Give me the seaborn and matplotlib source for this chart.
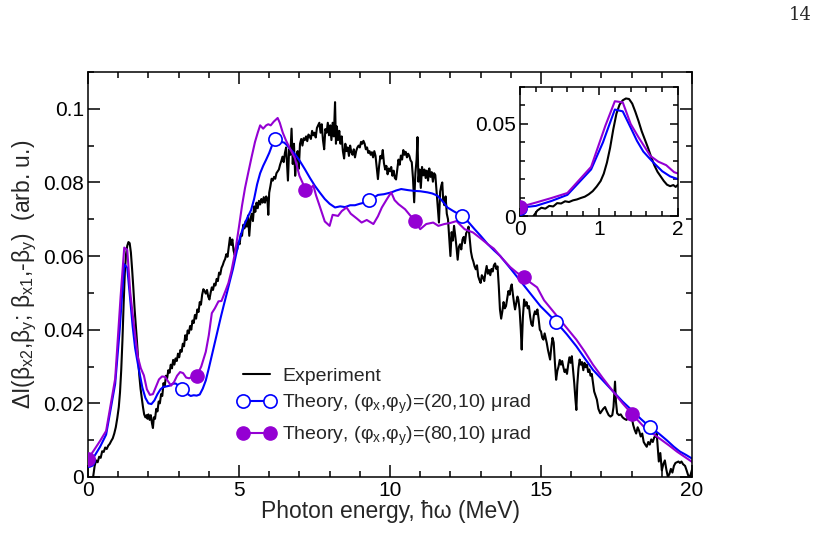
import matplotlib
matplotlib.use('Agg')
import matplotlib.pyplot as plt
from matplotlib.lines import Line2D
from matplotlib.ticker import MultipleLocator
import seaborn as sns

######################################################
# Experimental spectrum (read off the figure)
exp_energy = [0.17, 0.22, 0.27, 0.32, 0.37, 0.42, 0.47, 0.52, 0.57, 0.62, 0.67, 0.72, 0.77, 0.82, 0.87,
              0.92, 0.97, 1.02, 1.06, 1.10, 1.14, 1.18, 1.22, 1.26, 1.30, 1.34, 1.38, 1.42, 1.46, 1.50,
              1.54, 1.58, 1.62, 1.66, 1.70, 1.74, 1.78, 1.82, 1.86, 1.90, 1.94, 1.97, 2.00, 2.04, 2.08,
              2.12, 2.15, 2.18, 2.22, 2.26, 2.30, 2.34, 2.38, 2.42, 2.46, 2.50, 2.54, 2.58, 2.62, 2.66,
              2.70, 2.74, 2.78, 2.82, 2.86, 2.90, 2.94, 2.98, 3.02, 3.06, 3.10, 3.14, 3.18, 3.22, 3.26,
              3.30, 3.34, 3.38, 3.42, 3.46, 3.50, 3.54, 3.58, 3.62, 3.66, 3.70, 3.74, 3.78, 3.82, 3.86,
              3.90, 3.94, 3.98, 4.02, 4.06, 4.10, 4.14, 4.18, 4.22, 4.26, 4.30, 4.34, 4.38, 4.42, 4.46,
              4.50, 4.54, 4.58, 4.62, 4.66, 4.70, 4.74, 4.78, 4.82, 4.86, 4.90, 4.94, 4.98, 5.02, 5.06,
              5.10, 5.14, 5.18, 5.22, 5.26, 5.30, 5.34, 5.38, 5.42, 5.46, 5.50, 5.54, 5.58, 5.62, 5.66,
              5.70, 5.74, 5.78, 5.82, 5.86, 5.90, 5.94, 5.97, 6.00, 6.04, 6.08, 6.12, 6.16, 6.20, 6.24,
              6.28, 6.32, 6.36, 6.40, 6.44, 6.48, 6.52, 6.56, 6.60, 6.62, 6.66, 6.70, 6.74, 6.78, 6.82,
              6.86, 6.90, 6.94, 6.98, 7.02, 7.06, 7.10, 7.14, 7.18, 7.22, 7.26, 7.30, 7.34, 7.38, 7.42,
              7.46, 7.50, 7.54, 7.58, 7.62, 7.66, 7.70, 7.74, 7.78, 7.82, 7.86, 7.90, 7.94, 7.98, 8.02,
              8.06, 8.10, 8.14, 8.18, 8.21, 8.24, 8.28, 8.32, 8.36, 8.40, 8.44, 8.48, 8.52, 8.56, 8.60,
              8.64, 8.68, 8.72, 8.76, 8.80, 8.84, 8.88, 8.92, 8.96, 9.00, 9.04, 9.08, 9.12, 9.16, 9.20,
              9.24, 9.28, 9.32, 9.36, 9.40, 9.44, 9.48, 9.52, 9.56, 9.60, 9.64, 9.68, 9.72, 9.76, 9.80,
              9.84, 9.88, 9.92, 9.96, 10.00, 10.04, 10.08, 10.12, 10.16, 10.20, 10.24, 10.28, 10.32,
              10.36, 10.40, 10.44, 10.48, 10.52, 10.56, 10.60, 10.64, 10.68, 10.72, 10.76, 10.80, 10.84,
              10.88, 10.91, 10.94, 10.98, 11.02, 11.06, 11.10, 11.14, 11.18, 11.22, 11.26, 11.30, 11.34,
              11.38, 11.42, 11.46, 11.50, 11.54, 11.58, 11.62, 11.66, 11.70, 11.73, 11.76, 11.80, 11.84,
              11.88, 11.92, 11.96, 12.00, 12.04, 12.08, 12.12, 12.16, 12.20, 12.24, 12.28, 12.32, 12.36,
              12.40, 12.44, 12.48, 12.52, 12.56, 12.60, 12.64, 12.68, 12.72, 12.76, 12.80, 12.84, 12.88,
              12.92, 12.96, 13.00, 13.04, 13.08, 13.12, 13.16, 13.20, 13.24, 13.28, 13.32, 13.36, 13.40,
              13.44, 13.48, 13.52, 13.56, 13.60, 13.64, 13.68, 13.72, 13.76, 13.80, 13.84, 13.88, 13.92,
              13.96, 14.00, 14.03, 14.07, 14.11, 14.14, 14.18, 14.22, 14.25, 14.29, 14.33, 14.36, 14.40,
              14.44, 14.48, 14.52, 14.56, 14.60, 14.64, 14.68, 14.72, 14.76, 14.80, 14.84, 14.88, 14.92,
              14.96, 15.00, 15.04, 15.08, 15.12, 15.16, 15.19, 15.23, 15.27, 15.30, 15.34, 15.38, 15.42,
              15.46, 15.50, 15.54, 15.58, 15.62, 15.66, 15.70, 15.74, 15.78, 15.82, 15.86, 15.90, 15.94,
              15.98, 16.02, 16.06, 16.10, 16.14, 16.17, 16.20, 16.24, 16.28, 16.32, 16.36, 16.40, 16.44,
              16.48, 16.52, 16.56, 16.60, 16.64, 16.68, 16.72, 16.76, 16.80, 16.85, 16.90, 16.96, 17.00,
              17.06, 17.12, 17.18, 17.24, 17.30, 17.36, 17.40, 17.45, 17.48, 17.52, 17.58, 17.64, 17.70,
              17.76, 17.83, 17.90, 17.95, 18.00, 18.05, 18.10, 18.15, 18.20, 18.25, 18.30, 18.35, 18.40,
              18.45, 18.50, 18.55, 18.60, 18.65, 18.70, 18.75, 18.80, 18.83, 18.87, 18.90, 18.95, 19.00,
              19.05, 19.10, 19.15, 19.20, 19.25, 19.30, 19.35, 19.40, 19.45, 19.50, 19.55, 19.60, 19.65,
              19.70, 19.77, 19.82, 19.87, 19.93, 20.00]
exp_signal = [0.0, 0.003, 0.0045, 0.004, 0.0055, 0.0052, 0.007, 0.0068, 0.008, 0.0076, 0.0085, 0.009,
              0.0098, 0.0105, 0.0118, 0.0135, 0.016, 0.019, 0.023, 0.029, 0.037, 0.047, 0.0555, 0.0605,
              0.0628, 0.0638, 0.0635, 0.061, 0.0565, 0.0515, 0.046, 0.0415, 0.037, 0.032, 0.0275, 0.024,
              0.0215, 0.019, 0.017, 0.0162, 0.0168, 0.0158, 0.017, 0.0155, 0.0168, 0.0145, 0.0133, 0.0162,
              0.0158, 0.0185, 0.0178, 0.0205, 0.020, 0.0225, 0.022, 0.0255, 0.0245, 0.0275, 0.0268, 0.029,
              0.0283, 0.0305, 0.0295, 0.0318, 0.0305, 0.0322, 0.0315, 0.0335, 0.0325, 0.0345, 0.034,
              0.0362, 0.0355, 0.0385, 0.0372, 0.0398, 0.039, 0.041, 0.040, 0.0425, 0.0418, 0.044, 0.043,
              0.0455, 0.0448, 0.0475, 0.0468, 0.0495, 0.051, 0.0505, 0.0498, 0.0508, 0.049, 0.0482, 0.050,
              0.0515, 0.0508, 0.0525, 0.052, 0.0538, 0.0532, 0.0555, 0.055, 0.0568, 0.0575, 0.0585,
              0.0592, 0.0605, 0.0598, 0.0625, 0.065, 0.063, 0.0645, 0.0615, 0.0602, 0.0625, 0.0618,
              0.0638, 0.0632, 0.066, 0.0655, 0.0685, 0.0675, 0.0695, 0.068, 0.071, 0.0655, 0.070, 0.0715,
              0.0695, 0.0735, 0.072, 0.0745, 0.073, 0.075, 0.074, 0.0755, 0.0745, 0.076, 0.0745, 0.0762,
              0.0755, 0.0712, 0.0772, 0.079, 0.081, 0.0805, 0.0815, 0.081, 0.0825, 0.083, 0.0835, 0.0848,
              0.0858, 0.087, 0.0855, 0.088, 0.0895, 0.0835, 0.0805, 0.089, 0.0875, 0.0946, 0.085, 0.0905,
              0.0818, 0.0868, 0.0885, 0.0837, 0.0905, 0.0918, 0.090, 0.092, 0.0915, 0.0925, 0.0912, 0.093,
              0.0925, 0.0918, 0.094, 0.0928, 0.0935, 0.0922, 0.0948, 0.0955, 0.0962, 0.0935, 0.0958,
              0.0915, 0.089, 0.0945, 0.0935, 0.0962, 0.0928, 0.0955, 0.0915, 0.0962, 0.0925, 0.1018,
              0.0905, 0.0952, 0.0915, 0.094, 0.0905, 0.0925, 0.0885, 0.0865, 0.0905, 0.0885, 0.0895,
              0.0872, 0.090, 0.0882, 0.0875, 0.089, 0.0868, 0.0885, 0.0895, 0.090, 0.0895, 0.091, 0.0905,
              0.0913, 0.0905, 0.089, 0.0895, 0.088, 0.0885, 0.0875, 0.0882, 0.0868, 0.0885, 0.0872, 0.084,
              0.0809, 0.0845, 0.0872, 0.0865, 0.0888, 0.0852, 0.0835, 0.0845, 0.0822, 0.0838, 0.083,
              0.0842, 0.0818, 0.0832, 0.0812, 0.0808, 0.0835, 0.0862, 0.0848, 0.0873, 0.0862, 0.0888,
              0.0875, 0.0883, 0.0868, 0.0878, 0.0872, 0.086, 0.0855, 0.0812, 0.0746, 0.0825, 0.0862,
              0.0923, 0.0802, 0.0835, 0.0785, 0.0842, 0.0819, 0.0835, 0.0812, 0.0832, 0.0805, 0.0838,
              0.0815, 0.0828, 0.0802, 0.0825, 0.082, 0.0778, 0.0735, 0.0691, 0.0775, 0.0792, 0.080,
              0.0752, 0.0738, 0.0762, 0.0715, 0.070, 0.0652, 0.060, 0.0665, 0.0642, 0.0682, 0.0655,
              0.0625, 0.059, 0.0625, 0.0632, 0.0618, 0.0645, 0.0652, 0.0635, 0.0662, 0.0668, 0.068,
              0.0645, 0.0612, 0.0595, 0.0585, 0.0572, 0.0564, 0.0575, 0.0545, 0.0535, 0.0527, 0.0548,
              0.0542, 0.0532, 0.0555, 0.0573, 0.0552, 0.0562, 0.0548, 0.0565, 0.0558, 0.0575, 0.058,
              0.0565, 0.0572, 0.052, 0.0455, 0.043, 0.045, 0.0475, 0.0458, 0.0464, 0.0485, 0.0505, 0.0495,
              0.0515, 0.0523, 0.0495, 0.047, 0.0455, 0.0472, 0.049, 0.0482, 0.0455, 0.040, 0.0346, 0.0435,
              0.0482, 0.0465, 0.0475, 0.0458, 0.0464, 0.0435, 0.0415, 0.041, 0.0438, 0.045, 0.0442,
              0.0455, 0.043, 0.040, 0.0395, 0.0378, 0.0373, 0.039, 0.0375, 0.0364, 0.0345, 0.033, 0.0319,
              0.0352, 0.0378, 0.0365, 0.031, 0.0264, 0.0288, 0.030, 0.0318, 0.0305, 0.0315, 0.0298,
              0.0285, 0.0292, 0.028, 0.0305, 0.0325, 0.031, 0.0328, 0.029, 0.0255, 0.021, 0.0182, 0.025,
              0.0295, 0.0319, 0.0305, 0.0312, 0.029, 0.031, 0.0298, 0.0305, 0.0285, 0.0292, 0.0275, 0.028,
              0.0255, 0.0232, 0.0222, 0.021, 0.0185, 0.0173, 0.0178, 0.0185, 0.019, 0.0178, 0.0168,
              0.0164, 0.0168, 0.019, 0.0259, 0.0205, 0.0173, 0.0168, 0.017, 0.0162, 0.0158, 0.0155,
              0.0162, 0.0158, 0.0164, 0.0142, 0.0128, 0.0118, 0.0135, 0.0125, 0.011, 0.0118, 0.0095,
              0.0088, 0.0082, 0.0095, 0.0088, 0.0102, 0.0095, 0.0108, 0.011, 0.0118, 0.0075, 0.0042,
              0.0065, 0.0018, 0.0035, 0.0045, 0.002, 0.0, 0.0008, 0.0022, 0.0012, 0.003, 0.0038, 0.004,
              0.0042, 0.0038, 0.0042, 0.0035, 0.003, 0.0018, 0.0005, 0.0, 0.002]

# Theory, (phi_x, phi_y) = (20, 10) urad
th20_energy = [0.0, 0.2, 0.4, 0.6, 0.9, 1.05, 1.1, 1.2, 1.3, 1.4, 1.48, 1.56, 1.63, 1.7, 1.8, 1.9, 2.0,
               2.1, 2.2, 2.3, 2.4, 2.5, 2.6, 2.7, 2.8, 2.9, 3.0, 3.1, 3.2, 3.3, 3.4, 3.5, 3.6, 3.7, 3.8,
               3.9, 4.0, 4.1, 4.2, 4.3, 4.4, 4.5, 4.6, 4.7, 4.8, 4.9, 5.0, 5.1, 5.2, 5.3, 5.4, 5.5, 5.6,
               5.7, 5.8, 5.9, 6.0, 6.1, 6.2, 6.3, 6.4, 6.5, 6.6, 6.7, 6.85, 7.0, 7.18, 7.35, 7.51, 7.68,
               7.84, 8.0, 8.18, 8.35, 8.51, 8.68, 8.84, 9.0, 9.15, 9.3, 9.45, 9.6, 9.8, 10.05, 10.2,
               10.37, 10.6, 10.8, 11.0, 11.24, 11.4, 11.57, 11.75, 11.9, 12.1, 12.25, 12.4, 12.6, 12.8,
               13.0, 13.24, 13.45, 13.65, 14.0, 14.32, 14.65, 14.98, 15.25, 15.5, 15.85, 16.17, 16.45,
               16.72, 17.05, 17.39, 17.7, 18.05, 18.3, 18.6, 18.9, 19.16, 19.4, 19.6, 19.8, 20.0]
th20_signal = [0.0045, 0.0055, 0.0082, 0.0115, 0.0253, 0.040, 0.046, 0.0578, 0.0568, 0.048, 0.0408,
               0.035, 0.0317, 0.0285, 0.0243, 0.0215, 0.0200, 0.0198, 0.0208, 0.0225, 0.0238, 0.0245,
               0.0246, 0.0248, 0.0253, 0.0254, 0.0248, 0.0239, 0.0232, 0.0225, 0.022, 0.0222, 0.0221,
               0.0224, 0.0240, 0.0262, 0.0295, 0.0330, 0.0365, 0.0400, 0.0435, 0.0468, 0.0500, 0.0533,
               0.0565, 0.0603, 0.0640, 0.0668, 0.0690, 0.0708, 0.0725, 0.0755, 0.0795, 0.0825, 0.0845,
               0.0862, 0.0880, 0.0902, 0.0918, 0.0912, 0.0910, 0.0908, 0.0900, 0.0890, 0.0877, 0.0860,
               0.0836, 0.0812, 0.0791, 0.0772, 0.0755, 0.0742, 0.0732, 0.0735, 0.0733, 0.0738, 0.0738,
               0.0742, 0.0745, 0.0752, 0.0758, 0.0766, 0.0768, 0.0773, 0.0778, 0.0782, 0.0779, 0.0777,
               0.0776, 0.0773, 0.077, 0.0764, 0.0748, 0.0732, 0.0722, 0.0715, 0.0709, 0.0692, 0.0673,
               0.0655, 0.0632, 0.0615, 0.0600, 0.0565, 0.0532, 0.0498, 0.0464, 0.0442, 0.0421, 0.0388,
               0.0355, 0.0322, 0.0291, 0.0262, 0.0232, 0.0205, 0.0178, 0.0158, 0.0136, 0.0118, 0.0100,
               0.0082, 0.0069, 0.0060, 0.0050]
th20_mark_energy = [0.0, 3.1, 6.2, 9.3, 12.4, 15.5, 18.6]
th20_mark_signal = [0.0045, 0.0239, 0.0918, 0.0752, 0.0709, 0.0421, 0.0136]

# Theory, (phi_x, phi_y) = (80, 10) urad
th80_energy = [0.0, 0.2, 0.4, 0.6, 0.9, 1.08, 1.2, 1.3, 1.4, 1.5, 1.65, 1.75, 1.85, 1.95, 2.05, 2.15,
               2.25, 2.35, 2.45, 2.55, 2.65, 2.75, 2.85, 2.95, 3.05, 3.15, 3.25, 3.35, 3.45, 3.6, 3.75,
               3.9, 4.0, 4.1, 4.2, 4.32, 4.42, 4.55, 4.65, 4.75, 4.87, 5.0, 5.1, 5.2, 5.31, 5.42, 5.53,
               5.62, 5.7, 5.8, 5.9, 5.97, 6.05, 6.15, 6.28, 6.35, 6.45, 6.55, 6.7, 6.85, 7.0, 7.1, 7.2,
               7.35, 7.46, 7.55, 7.67, 7.84, 8.0, 8.1, 8.28, 8.4, 8.56, 8.7, 8.9, 9.06, 9.23, 9.45, 9.6,
               9.73, 9.9, 10.04, 10.15, 10.28, 10.5, 10.65, 10.83, 11.0, 11.2, 11.43, 11.6, 11.8, 12.0,
               12.2, 12.47, 12.75, 13.0, 13.24, 13.44, 13.7, 13.98, 14.2, 14.43, 14.65, 14.87, 15.1,
               15.4, 15.8, 16.17, 16.45, 16.72, 17.05, 17.39, 17.7, 18.0, 18.25, 18.5, 18.75, 19.0,
               19.25, 19.5, 19.75, 20.0]
th80_signal = [0.0049, 0.0073, 0.0098, 0.0125, 0.0267, 0.049, 0.0623, 0.0617, 0.050, 0.0427, 0.0326,
               0.0295, 0.0276, 0.0238, 0.0223, 0.0225, 0.0245, 0.0265, 0.0273, 0.0272, 0.026, 0.0248,
               0.0258, 0.0275, 0.0285, 0.0282, 0.027, 0.0268, 0.0272, 0.0274, 0.030, 0.034, 0.0385,
               0.0445, 0.0458, 0.0477, 0.0478, 0.0505, 0.0527, 0.0560, 0.0610, 0.0680, 0.0737, 0.0785,
               0.0828, 0.087, 0.091, 0.0935, 0.0955, 0.0946, 0.0955, 0.0958, 0.0955, 0.0965, 0.0975,
               0.0962, 0.0935, 0.0915, 0.0890, 0.0866, 0.0818, 0.0800, 0.078, 0.0782, 0.0792, 0.0765,
               0.0736, 0.0694, 0.0682, 0.0712, 0.0709, 0.0722, 0.0732, 0.0715, 0.0702, 0.0691, 0.0698,
               0.0687, 0.0708, 0.0732, 0.0755, 0.0773, 0.0752, 0.0741, 0.0727, 0.0712, 0.0695, 0.0673,
               0.0687, 0.0691, 0.0682, 0.0687, 0.069, 0.0695, 0.0673, 0.0664, 0.0648, 0.0632, 0.062,
               0.0595, 0.057, 0.0555, 0.0542, 0.0528, 0.0515, 0.048, 0.045, 0.041, 0.0373, 0.034, 0.0305,
               0.0268, 0.0232, 0.0200, 0.0172, 0.015, 0.0128, 0.0115, 0.010, 0.0085, 0.0069, 0.0055,
               0.0041]
th80_mark_energy = [0.0, 3.6, 7.2, 10.83, 14.43, 18.0]
th80_mark_signal = [0.0049, 0.0274, 0.078, 0.0695, 0.0542, 0.0172]

legend_labels = ['Experiment',
                 r'Theory, (φ$_x$,φ$_y$)=(20,10) μrad',
                 r'Theory, (φ$_x$,φ$_y$)=(80,10) μrad']

BLUE = '#0000ff'
VIOLET = '#9400d3'

sns.set_theme(style='ticks')
plt.rcParams['font.family'] = ['Liberation Sans', 'DejaVu Sans']
plt.rcParams['mathtext.default'] = 'regular'


def draw_curves(ax, msize):
    sns.lineplot(x=exp_energy, y=exp_signal, ax=ax, color='black', lw=1.5, sort=False,
                 estimator=None, legend=False)
    sns.lineplot(x=th20_energy, y=th20_signal, ax=ax, color=BLUE, lw=1.5, sort=False,
                 estimator=None, legend=False)
    sns.lineplot(x=th80_energy, y=th80_signal, ax=ax, color=VIOLET, lw=1.5, sort=False,
                 estimator=None, legend=False)
    ax.plot(th20_mark_energy, th20_mark_signal, ls='none', marker='o', ms=msize,
            mfc='white', mec=BLUE, mew=1.2, zorder=5)
    ax.plot(th80_mark_energy, th80_mark_signal, ls='none', marker='o', ms=msize,
            mfc=VIOLET, mec=VIOLET, zorder=6)


def style_axis(ax, maj, minl, width, lsize):
    for sp in ax.spines.values():
        sp.set_linewidth(width)
        sp.set_color('black')
    ax.tick_params(which='both', direction='in', top=True, right=True, width=width,
                   colors='black', labelsize=lsize, pad=3)
    ax.tick_params(which='major', length=maj)
    ax.tick_params(which='minor', length=minl)


fig = plt.figure(figsize=(8.27, 5.33), dpi=100)
ax = fig.add_axes([0.1064, 0.1051, 0.7304, 0.7599])
draw_curves(ax, 9.5)
ax.set_xlim(0, 20)
ax.set_ylim(0, 0.11)
ax.xaxis.set_major_locator(MultipleLocator(5))
ax.xaxis.set_minor_locator(MultipleLocator(1))
ax.yaxis.set_minor_locator(MultipleLocator(0.01))
ax.set_yticks([0, 0.02, 0.04, 0.06, 0.08, 0.1])
ax.set_yticklabels(['0', '0.02', '0.04', '0.06', '0.08', '0.1'])
style_axis(ax, 8.5, 4.5, 1.1, 15)
ax.set_xlabel('Photon energy, ħω (MeV)', fontsize=16.5, labelpad=0)
ax.set_ylabel('ΔI(β$_{x2}$,β$_y$; β$_{x1}$,-β$_y$)  (arb. u.)', fontsize=16.5, labelpad=3)

handles = [Line2D([], [], color='black', lw=1.5),
           Line2D([], [], color=BLUE, lw=1.5, marker='o', ms=9.5, mfc='white', mec=BLUE, mew=1.2),
           Line2D([], [], color=VIOLET, lw=1.5, marker='o', ms=9.5, mfc=VIOLET, mec=VIOLET)]
ax.legend(handles, legend_labels, loc='upper left', bbox_to_anchor=(0.247, 0.271), frameon=False,
          fontsize=14, numpoints=2, handlelength=2.0, handletextpad=0.3, labelspacing=0.42,
          borderpad=0, borderaxespad=0)

# inset: low energy region
axin = fig.add_axes([0.6288, 0.5947, 0.1911, 0.2420])
draw_curves(axin, 9.5)
axin.set_xlim(0, 2)
axin.set_ylim(0, 0.07)
axin.xaxis.set_major_locator(MultipleLocator(1))
axin.xaxis.set_minor_locator(MultipleLocator(0.2))
axin.set_yticks([0, 0.05])
axin.set_yticklabels(['0', '0.05'])
axin.yaxis.set_minor_locator(MultipleLocator(0.01))
style_axis(axin, 6, 3.5, 1.1, 15)
axin.set_xlabel('')
axin.set_ylabel('')

fig.text(0.9675, 0.972, '14', ha='center', va='center', fontsize=13, family='DejaVu Serif')

fig.savefig('out.png', dpi=100)
